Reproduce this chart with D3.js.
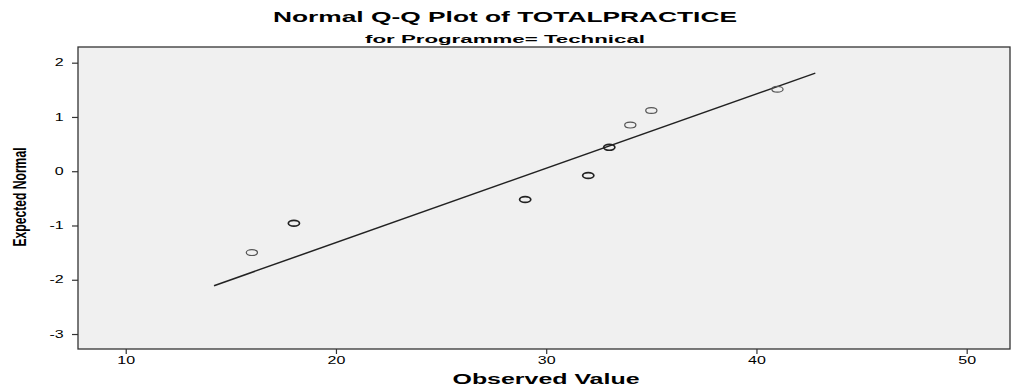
<!DOCTYPE html>
<html>
<head>
<meta charset="utf-8">
<script src="https://cdn.jsdelivr.net/npm/d3@7"></script>
<style>
  body { margin: 0; background: #fff; }
  text { font-family: Arial, "Liberation Sans", sans-serif; fill: #000; }
</style>
</head>
<body>
<svg id="svg_qq" width="1012" height="390"></svg>
<script>
// data
var observed = [16, 18, 29, 32, 33, 34, 35, 41];
var expected = [-1.50, -0.96, -0.52, -0.08, 0.44, 0.85, 1.12, 1.51];
var ties = [1, 2, 2, 2, 2, 1, 1, 1];          // overplotted cases
var lineMean = 29.6, lineSd = 7.3;            // reference line
var lineX = [14.2, 42.8];
var xTicks = [10, 20, 30, 40, 50];
var yTicks = [2, 1, 0, -1, -2, -3];

var svg = d3.select("#svg_qq");
var plot = { left: 78, right: 1010, top: 47, bottom: 349 };
var stretch = 1.6; // the reference is stretched horizontally

var x = d3.scaleLinear().domain([7.73, 52.06]).range([plot.left, plot.right]);
var y = d3.scaleLinear().domain([-3.276, 2.289]).range([plot.bottom, plot.top]);

// plot area
svg.append("rect")
  .attr("x", plot.left).attr("y", plot.top)
  .attr("width", plot.right - plot.left)
  .attr("height", plot.bottom - plot.top)
  .attr("fill", "#f0f0f0")
  .attr("stroke", "#333")
  .attr("stroke-width", 1.3);

// axes
var gx = svg.append("g")
  .attr("transform", "translate(0," + plot.bottom + ")")
  .call(d3.axisBottom(x).tickValues(xTicks).tickSize(5).tickPadding(3)
    .tickFormat(function(d) { return String(d); }));
gx.select(".domain").remove();

var gy = svg.append("g")
  .attr("transform", "translate(" + plot.left + ",0)")
  .call(d3.axisLeft(y).tickValues(yTicks).tickSize(6).tickPadding(3)
    .tickFormat(function(d) { return String(d); }));
gy.select(".domain").remove();

svg.selectAll(".tick line").attr("stroke", "#333").attr("stroke-width", 1.2);
svg.selectAll(".tick text")
  .attr("font-size", 10)
  .attr("fill", "#333")
  .attr("transform", "scale(" + stretch + ",1)");

// reference line
svg.append("line")
  .attr("x1", x(lineX[0])).attr("y1", y((lineX[0] - lineMean) / lineSd))
  .attr("x2", x(lineX[1])).attr("y2", y((lineX[1] - lineMean) / lineSd))
  .attr("stroke", "#222")
  .attr("stroke-width", 1.5);

// points, tied cases look heavier
svg.append("g")
  .selectAll("ellipse")
  .data(observed)
  .enter()
  .append("ellipse")
  .attr("cx", function(d) { return x(d); })
  .attr("cy", function(d, i) { return y(expected[i]); })
  .attr("rx", 5.6)
  .attr("ry", 2.9)
  .attr("fill", "none")
  .attr("stroke", function(d, i) { return ties[i] > 1 ? "#222" : "#555"; })
  .attr("stroke-width", function(d, i) { return ties[i] > 1 ? 1.7 : 1.2; });

// titles
svg.append("text")
  .attr("x", 505).attr("y", 22)
  .attr("text-anchor", "middle")
  .attr("font-size", 14).attr("font-weight", "bold")
  .attr("textLength", 464).attr("lengthAdjust", "spacingAndGlyphs")
  .text("Normal Q-Q Plot of TOTALPRACTICE");

svg.append("text")
  .attr("x", 505).attr("y", 43)
  .attr("text-anchor", "middle")
  .attr("font-size", 11).attr("font-weight", "bold")
  .attr("textLength", 280).attr("lengthAdjust", "spacingAndGlyphs")
  .text("for Programme= Technical");

svg.append("text")
  .attr("x", 546).attr("y", 384)
  .attr("text-anchor", "middle")
  .attr("font-size", 14).attr("font-weight", "bold")
  .attr("textLength", 187).attr("lengthAdjust", "spacingAndGlyphs")
  .text("Observed Value");

svg.append("text")
  .attr("transform", "translate(20,197) scale(1.4,1) rotate(-90)")
  .attr("text-anchor", "middle")
  .attr("dy", "0.35em")
  .attr("font-size", 13).attr("font-weight", "bold")
  .attr("textLength", 99).attr("lengthAdjust", "spacingAndGlyphs")
  .text("Expected Normal");
</script>
</body>
</html>
